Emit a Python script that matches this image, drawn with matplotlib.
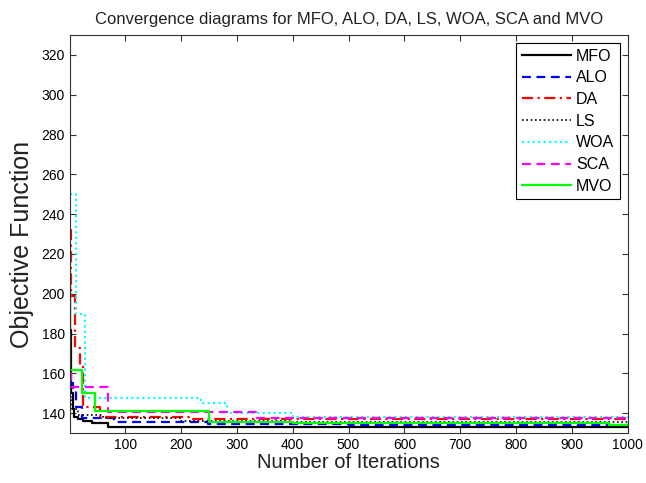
import matplotlib
matplotlib.use("Agg")
import matplotlib.pyplot as plt

# ── step breakpoints (iteration, best objective) ──
mfo_it = [1, 2, 3, 4, 6, 9, 15, 25, 40, 70, 1000]
mfo_val = [210, 182, 160, 150, 142, 138, 137, 136, 135, 133.2, 133.2]

alo_it = [1, 7, 13, 22, 81, 248, 500, 1000]
alo_val = [155, 152.5, 143, 137.5, 135.6, 134.6, 134.0, 134.0]

da_it = [1, 3, 10, 20, 25, 55, 218, 1000]
da_val = [232, 199, 172.6, 164, 143, 137.8, 137.0, 137.0]

ls_it = [1, 5, 15, 60, 200, 400, 1000]
ls_val = [148, 142, 139, 137.5, 136, 135.5, 135.5]

woa_it = [1, 13, 28, 236, 283, 400, 1000]
woa_val = [250, 190, 147.5, 145, 140, 138, 138]

sca_it = [1, 4, 69, 334, 1000]
sca_val = [160, 152.9, 140.7, 137.3, 137.3]

mvo_it = [1, 2, 22, 46, 251, 400, 967, 1000]
mvo_val = [223, 161.6, 150.2, 141.2, 135.6, 134.8, 134.0, 134.0]

labels = ["MFO", "ALO", "DA", "LS", "WOA", "SCA", "MVO"]
series = [(mfo_it, mfo_val), (alo_it, alo_val), (da_it, da_val), (ls_it, ls_val),
          (woa_it, woa_val), (sca_it, sca_val), (mvo_it, mvo_val)]
styles = [
    dict(color="black", linestyle="-"),
    dict(color="blue", linestyle=(0, (4, 2.5))),
    dict(color="red", linestyle=(0, (5, 2, 1, 2))),
    dict(color="black", linestyle=(0, (1, 1.6)), linewidth=1.2),
    dict(color="cyan", linestyle=(0, (1, 1.6)), linewidth=1.5),
    dict(color="magenta", linestyle=(0, (4, 2.5))),
    dict(color=(0, 1, 0), linestyle="-"),
]

plt.rcParams["font.family"] = ["Liberation Sans", "DejaVu Sans"]

fig = plt.figure(figsize=(6.46, 4.83), dpi=100)
ax = fig.add_axes([0.108, 0.1035, 0.864, 0.824])

for (it, val), lab, st in zip(series, labels, styles):
    kw = dict(linewidth=1.6)
    kw.update(st)
    ax.plot(it, val, drawstyle="steps-post", label=lab, **kw)

ax.set_xlim(1, 1000)
ax.set_ylim(130, 330)
ax.set_xticks(range(100, 1001, 100))
ax.set_yticks(range(140, 321, 20))
ax.tick_params(direction="in", top=True, right=True, length=4, labelsize=10,
               color="#333333", width=0.8)
for s in ax.spines.values():
    s.set_color("#333333")
    s.set_linewidth(0.8)

ax.set_title("Convergence diagrams for MFO, ALO, DA, LS, WOA, SCA and MVO",
             fontsize=12, pad=8, color="#222222")
ax.set_xlabel("Number of Iterations", fontsize=14.5, labelpad=1, color="#222222")
ax.set_ylabel("Objective Function", fontsize=18, color="#222222")
ax.yaxis.set_label_coords(-0.064, 0.475)

leg = ax.legend(loc="upper right", fontsize=11.5, handlelength=3.1,
                fancybox=False, framealpha=1, edgecolor="black",
                borderaxespad=0.5, labelspacing=0.42, handletextpad=0.3,
                borderpad=0.35)
leg.get_frame().set_linewidth(0.8)

fig.savefig("out.png", dpi=100)
